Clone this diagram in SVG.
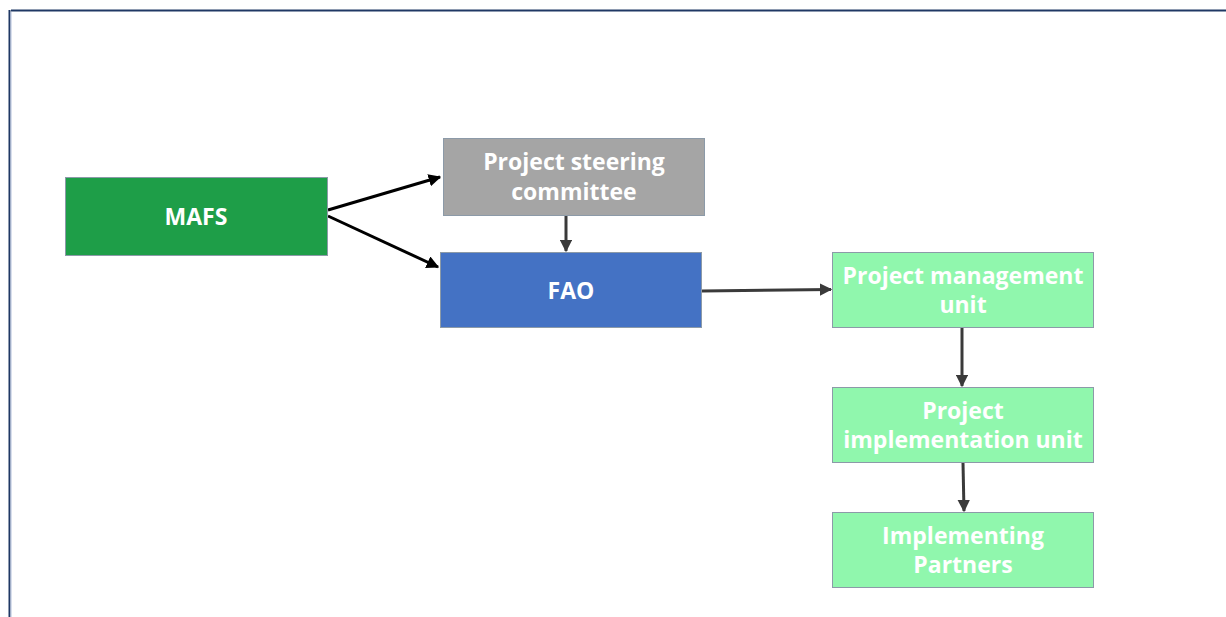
<svg xmlns="http://www.w3.org/2000/svg" width="1226" height="617" viewBox="0 0 1226 617">
  <style>
    .box { stroke: #8c9aa8; stroke-width: 1; }
    .lbl { font-family: "Open Sans", "Liberation Sans", sans-serif; font-weight: 700; font-size: 23px; fill: #ffffff; text-anchor: middle; }
    .edge { stroke: #000000; stroke-width: 3; fill: none; }
    .edge2 { stroke: #3a3a3a; stroke-width: 3; fill: none; }
  </style>
  <defs>
    <marker id="ah" viewBox="0 0 10 10" refX="9" refY="5" markerWidth="4.2" markerHeight="4.2" orient="auto" markerUnits="strokeWidth">
      <path d="M0,0 L10,5 L0,10 z" fill="#000000"/>
    </marker>
    <marker id="ah2" viewBox="0 0 10 10" refX="9" refY="5" markerWidth="4.2" markerHeight="4.2" orient="auto" markerUnits="strokeWidth">
      <path d="M0,0 L10,5 L0,10 z" fill="#3a3a3a"/>
    </marker>
  </defs>
  <rect width="1226" height="617" fill="#ffffff"/>
  <!-- page frame -->
  <line x1="11" y1="10.5" x2="1226" y2="10.5" stroke="#1f3864" stroke-width="2"/>
  <line x1="9.5" y1="10" x2="9.5" y2="617" stroke="#1f3864" stroke-width="2"/>
  <line x1="11" y1="12" x2="11" y2="617" stroke="#b4c0dc" stroke-width="1"/>

  <g id="connectors">
    <line class="edge" x1="328" y1="210" x2="440" y2="177" marker-end="url(#ah)"/>
    <line class="edge" x1="328" y1="216" x2="438" y2="267" marker-end="url(#ah)"/>
    <line class="edge2" x1="566" y1="216" x2="566" y2="251" marker-end="url(#ah2)"/>
    <line class="edge2" x1="702" y1="291" x2="831" y2="289.5" marker-end="url(#ah2)"/>
    <line class="edge2" x1="962" y1="328" x2="962" y2="386" marker-end="url(#ah2)"/>
    <line class="edge2" x1="963" y1="463" x2="964" y2="511" marker-end="url(#ah2)"/>
  </g>

  <g id="mafs">
    <rect class="box" x="65.5" y="177.5" width="262" height="78" fill="#1e9e48"/>
    <text class="lbl" x="196" y="225">MAFS</text>
  </g>
  <g id="steering">
    <rect class="box" x="443.5" y="138.5" width="261" height="77" fill="#a5a5a5"/>
    <text class="lbl" x="574" y="170">Project steering</text>
    <text class="lbl" x="574" y="200">committee</text>
  </g>
  <g id="fao">
    <rect class="box" x="440.5" y="252.5" width="261" height="75" fill="#4472c4"/>
    <text class="lbl" x="571" y="299">FAO</text>
  </g>
  <g id="pmu">
    <rect class="box" x="832.5" y="252.5" width="261" height="75" fill="#90f7ad"/>
    <text class="lbl" x="963" y="284">Project management</text>
    <text class="lbl" x="963" y="313">unit</text>
  </g>
  <g id="piu">
    <rect class="box" x="832.5" y="387.5" width="261" height="75" fill="#90f7ad"/>
    <text class="lbl" x="963" y="419">Project</text>
    <text class="lbl" x="963" y="448">implementation unit</text>
  </g>
  <g id="partners">
    <rect class="box" x="832.5" y="512.5" width="261" height="75" fill="#90f7ad"/>
    <text class="lbl" x="963" y="544">Implementing</text>
    <text class="lbl" x="963" y="573">Partners</text>
  </g>
</svg>
